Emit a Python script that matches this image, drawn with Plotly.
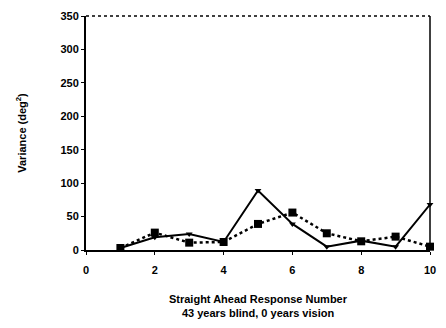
import plotly.graph_objects as go

responses = [1, 2, 3, 4, 5, 6, 7, 8, 9, 10]
solid_variance = [3, 19, 24, 12, 89, 39, 5, 14, 5, 68]
dotted_variance = [3, 26, 11, 12, 39, 56, 25, 13, 20, 5]
x_ticks = [0, 2, 4, 6, 8, 10]
y_ticks = [0, 50, 100, 150, 200, 250, 300, 350]

fnt = dict(family="Liberation Sans, Arial, sans-serif", size=11, color="black")

fig = go.Figure()
fig.add_trace(go.Scatter(
    x=responses, y=dotted_variance, mode="lines+markers",
    line=dict(color="black", width=2.5, dash="dot"),
    marker=dict(symbol="square", size=8, color="black"),
    showlegend=False, cliponaxis=False))
fig.add_trace(go.Scatter(
    x=responses, y=solid_variance, mode="lines+markers",
    line=dict(color="black", width=2),
    marker=dict(symbol="triangle-down", size=6, color="black"),
    showlegend=False, cliponaxis=False))

fig.update_layout(
    width=446, height=328,
    margin=dict(l=86, r=10, t=10, b=78),
    paper_bgcolor="white", plot_bgcolor="white",
    font=fnt,
    xaxis=dict(range=[0, 10], tickvals=x_ticks, ticktext=[f"<b>{v}</b>" for v in x_ticks],
               showgrid=False, zeroline=False, showline=True, linecolor="black", linewidth=2,
               ticks="outside", ticklen=3, tickcolor="black", tickwidth=1,
               ticklabelstandoff=6,
               title=dict(text="<b>Straight Ahead Response Number<br>43 years blind, 0 years vision</b>",
                          font=dict(size=11), standoff=20)),
    yaxis=dict(range=[0, 350], tickvals=y_ticks, ticktext=[f"<b>{v}</b>" for v in y_ticks],
               showgrid=False, zeroline=False, showline=True, linecolor="black", linewidth=2,
               ticks="outside", ticklen=3, tickcolor="black", tickwidth=1,
               title=dict(text="<b>Variance (deg<sup>2</sup>)</b>", font=dict(size=11), standoff=32)),
    shapes=[
        dict(type="line", xref="paper", yref="paper", x0=0, x1=1, y0=1, y1=1,
             line=dict(color="black", width=1.5, dash="dot")),
        dict(type="line", xref="paper", yref="paper", x0=1, x1=1, y0=0, y1=1,
             line=dict(color="black", width=1.5)),
    ],
)

fig.write_html("out.html")
